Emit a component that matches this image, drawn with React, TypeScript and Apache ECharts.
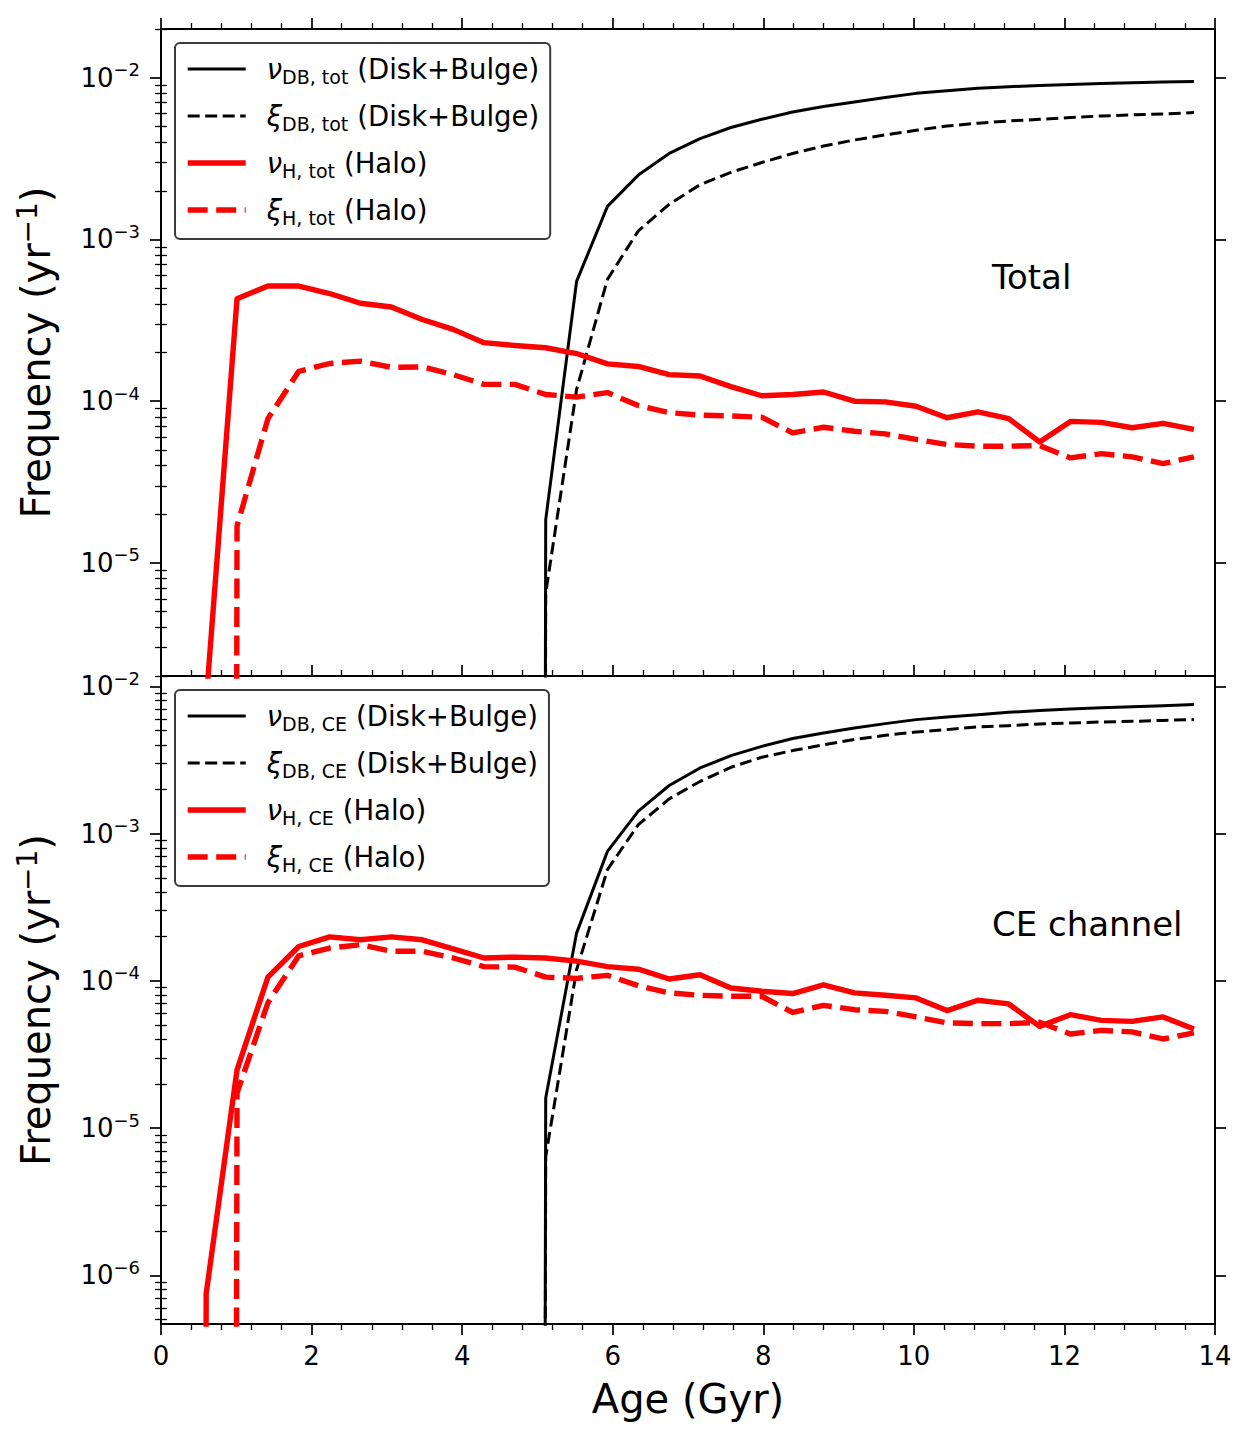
import React, { useEffect, useRef } from 'react';
import * as echarts from 'echarts';

// Age grid (Gyr)
const AGE_GYR = [0.19, 0.6, 1.01, 1.42, 1.83, 2.24, 2.65, 3.06, 3.47, 3.88, 4.29, 4.7, 5.11, 5.52, 5.93, 6.34, 6.75, 7.16, 7.57, 7.98, 8.39, 8.8, 9.21, 9.62, 10.03, 10.44, 10.85, 11.26, 11.67, 12.08, 12.49, 12.9, 13.31, 13.72];

// ---- Top panel: Total ----
const NU_DB_TOT = [0, 0, 0, 0, 0, 0, 0, 0, 0, 0, 0, 0, 1.85e-5, 5.5e-4, 1.6e-3, 2.5e-3, 3.4e-3, 4.2e-3, 4.92e-3, 5.53e-3, 6.14e-3, 6.63e-3, 7.08e-3, 7.54e-3, 8.0e-3, 8.3e-3, 8.6e-3, 8.8e-3, 8.95e-3, 9.08e-3, 9.2e-3, 9.29e-3, 9.4e-3, 9.48e-3];
const XI_DB_TOT = [0, 0, 0, 0, 0, 0, 0, 0, 0, 0, 0, 0, 6.5e-6, 1.18e-4, 5.66e-4, 1.13e-3, 1.65e-3, 2.18e-3, 2.6e-3, 2.99e-3, 3.4e-3, 3.78e-3, 4.12e-3, 4.43e-3, 4.73e-3, 5.03e-3, 5.23e-3, 5.4e-3, 5.53e-3, 5.67e-3, 5.8e-3, 5.89e-3, 5.97e-3, 6.09e-3];
const NU_H_TOT = [0, 1.4e-6, 4.3e-4, 5.15e-4, 5.15e-4, 4.63e-4, 4.03e-4, 3.82e-4, 3.2e-4, 2.78e-4, 2.3e-4, 2.21e-4, 2.14e-4, 1.97e-4, 1.7e-4, 1.64e-4, 1.46e-4, 1.43e-4, 1.23e-4, 1.08e-4, 1.1e-4, 1.14e-4, 1.0e-4, 9.9e-5, 9.3e-5, 7.9e-5, 8.6e-5, 7.8e-5, 5.6e-5, 7.5e-5, 7.4e-5, 6.85e-5, 7.3e-5, 6.7e-5];
const XI_H_TOT = [0, 0, 1.69e-5, 7.8e-5, 1.53e-4, 1.71e-4, 1.77e-4, 1.62e-4, 1.63e-4, 1.46e-4, 1.27e-4, 1.27e-4, 1.1e-4, 1.06e-4, 1.13e-4, 9.4e-5, 8.5e-5, 8.2e-5, 8.1e-5, 7.96e-5, 6.37e-5, 6.9e-5, 6.52e-5, 6.28e-5, 5.8e-5, 5.4e-5, 5.27e-5, 5.27e-5, 5.32e-5, 4.46e-5, 4.74e-5, 4.53e-5, 4.11e-5, 4.53e-5];

// ---- Bottom panel: CE channel ----
const NU_DB_CE = [0, 0, 0, 0, 0, 0, 0, 0, 0, 0, 0, 0, 1.6e-5, 2.11e-4, 7.57e-4, 1.42e-3, 2.12e-3, 2.79e-3, 3.38e-3, 3.91e-3, 4.42e-3, 4.82e-3, 5.21e-3, 5.58e-3, 5.94e-3, 6.19e-3, 6.42e-3, 6.66e-3, 6.84e-3, 7.02e-3, 7.16e-3, 7.27e-3, 7.39e-3, 7.51e-3];
const XI_DB_CE = [0, 0, 0, 0, 0, 0, 0, 0, 0, 0, 0, 0, 6.4e-6, 1.19e-4, 5.69e-4, 1.15e-3, 1.72e-3, 2.26e-3, 2.82e-3, 3.3e-3, 3.66e-3, 4.01e-3, 4.35e-3, 4.65e-3, 4.89e-3, 5.08e-3, 5.3e-3, 5.4e-3, 5.55e-3, 5.63e-3, 5.73e-3, 5.78e-3, 5.87e-3, 5.94e-3];
const NU_H_CE = [0, 7.5e-7, 2.49e-5, 1.06e-4, 1.71e-4, 1.99e-4, 1.9e-4, 1.99e-4, 1.9e-4, 1.65e-4, 1.43e-4, 1.45e-4, 1.43e-4, 1.36e-4, 1.25e-4, 1.2e-4, 1.03e-4, 1.1e-4, 8.95e-5, 8.5e-5, 8.2e-5, 9.4e-5, 8.28e-5, 7.98e-5, 7.66e-5, 6.28e-5, 7.38e-5, 6.97e-5, 4.91e-5, 5.89e-5, 5.39e-5, 5.31e-5, 5.69e-5, 4.71e-5];
const XI_H_CE = [0, 0, 1.73e-5, 7.1e-5, 1.48e-4, 1.67e-4, 1.76e-4, 1.59e-4, 1.59e-4, 1.43e-4, 1.25e-4, 1.24e-4, 1.06e-4, 1.04e-4, 1.09e-4, 9.27e-5, 8.28e-5, 7.98e-5, 7.86e-5, 7.86e-5, 6.1e-5, 6.82e-5, 6.37e-5, 6.21e-5, 5.69e-5, 5.18e-5, 5.12e-5, 5.12e-5, 5.23e-5, 4.36e-5, 4.61e-5, 4.5e-5, 4.03e-5, 4.43e-5];

// Legend labels: [symbol, subscript, text]
const TOP_LABELS = [
  ['ν', 'DB, tot', '(Disk+Bulge)'],
  ['ξ', 'DB, tot', '(Disk+Bulge)'],
  ['ν', 'H, tot', '(Halo)'],
  ['ξ', 'H, tot', '(Halo)'],
];
const BOTTOM_LABELS = [
  ['ν', 'DB, CE', '(Disk+Bulge)'],
  ['ξ', 'DB, CE', '(Disk+Bulge)'],
  ['ν', 'H, CE', '(Halo)'],
  ['ξ', 'H, CE', '(Halo)'],
];
const PANEL_TEXTS = ['Total', 'CE channel'];

// Axis tick definitions (log10 exponents)
const X_RANGE = [0, 14];
const X_INTERVAL = 2;
const TOP_DECADES = [-5, -4, -3, -2];
const BOTTOM_DECADES = [-6, -5, -4, -3, -2];
const MINOR_MULTIPLES = [2, 3, 4, 5, 6, 7, 8, 9];
const TOP_Y_RANGE = [Math.log10(2e-6), Math.log10(2e-2)];
const BOTTOM_Y_RANGE = [-6.33, -1.93];

const FONT = 'DejaVu Sans';
const FLOOR = -100;
const toLog = (v: number) => (v > 0 ? Math.log10(v) : FLOOR);

const labelName = (l: string[]) => `${l[0]}${l[1]} ${l[2]}`;

function minorTicks(range: number[]) {
  const out: number[] = [];
  for (let d = Math.floor(range[0]) - 1; d <= Math.ceil(range[1]); d++) {
    for (const m of MINOR_MULTIPLES) {
      const v = d + Math.log10(m);
      if (v >= range[0] - 1e-9 && v <= range[1] + 1e-9) out.push(v);
    }
  }
  return out;
}

const BLACK_W = 3;
const RED_W = 5.4;
const BLACK_DASH = [12, 5.5];
const RED_DASH = [20, 8.5];

const STYLES = [
  { color: '#000000', width: BLACK_W, type: 'solid' as any },
  { color: '#000000', width: BLACK_W, type: BLACK_DASH as any },
  { color: '#ff0000', width: RED_W, type: 'solid' as any },
  { color: '#ff0000', width: RED_W, type: RED_DASH as any },
];

function buildOption() {
  const gridLeft = 161;
  const gridW = 1054;
  const grids = [
    { left: gridLeft, top: 29, width: gridW, height: 647 },
    { left: gridLeft, top: 676, width: gridW, height: 648 },
  ];

  const xAxis = (gridIndex: number, position: string, showTicks: boolean, labels: boolean) => ({
    type: 'value',
    gridIndex,
    position,
    min: X_RANGE[0],
    max: X_RANGE[1],
    interval: X_INTERVAL,
    axisLine: { show: true, onZero: false, lineStyle: { color: '#000', width: 2 } },
    axisTick: { show: showTicks, inside: false, length: 11, lineStyle: { color: '#000', width: 1.7 } },
    minorTick: { show: showTicks, splitNumber: 5, length: 6, lineStyle: { color: '#000', width: 1.3 } },
    axisLabel: {
      show: labels,
      margin: 17,
      fontFamily: FONT,
      fontSize: 26,
      lineHeight: 30,
      color: '#000',
    },
    splitLine: { show: false },
    minorSplitLine: { show: false },
    ...(labels
      ? {
          name: 'Age (Gyr)',
          nameLocation: 'middle',
          nameGap: 54,
          nameTextStyle: { fontFamily: FONT, fontSize: 40, lineHeight: 42, color: '#000' },
        }
      : {}),
  });

  const yLabelFmt = (v: number) => `{b|10}{s|−${Math.round(-v)}}`;

  const yAxes = (gridIndex: number, range: number[], decades: number[]) => {
    const minors = minorTicks(range);
    const common = {
      type: 'value',
      gridIndex,
      min: range[0],
      max: range[1],
      splitLine: { show: false },
    };
    const major = (position: string) => ({
      ...common,
      position,
      axisLine: { show: true, onZero: false, lineStyle: { color: '#000', width: 2 } },
      axisTick: { show: true, inside: false, customValues: decades, length: 11, lineStyle: { color: '#000', width: 1.7 } },
      axisLabel: {
        show: position === 'left',
        customValues: decades,
        formatter: yLabelFmt,
        margin: 21,
        color: '#000',
        fontFamily: FONT,
        rich: {
          b: { fontFamily: FONT, fontSize: 26, lineHeight: 34, color: '#000' },
          s: { fontFamily: FONT, fontSize: 18, lineHeight: 20, verticalAlign: 'top', color: '#000' },
        },
      },
      ...(position === 'left'
        ? {
            name: 'Frequency (yr{s|−1})',
            nameLocation: 'middle',
            nameGap: 102,
            nameTextStyle: {
              fontFamily: FONT,
              fontSize: 40,
              lineHeight: 46,
              color: '#000',
              rich: { s: { fontFamily: FONT, fontSize: 28, lineHeight: 28, verticalAlign: 'top', color: '#000' } },
            },
          }
        : {}),
    });
    const minor = (position: string) => ({
      ...common,
      position,
      axisLine: { show: false },
      axisTick: { show: true, inside: false, customValues: minors, length: 6, lineStyle: { color: '#000', width: 1.3 } },
      axisLabel: { show: false },
    });
    return [major('left'), minor('left'), major('right'), minor('right')];
  };

  const allSeries = [NU_DB_TOT, XI_DB_TOT, NU_H_TOT, XI_H_TOT];
  const allSeriesCE = [NU_DB_CE, XI_DB_CE, NU_H_CE, XI_H_CE];

  const mkSeries = (labels: string[][], values: number[][], xIdx: number, yIdx: number) =>
    labels.map((l, i) => ({
      type: 'line',
      name: labelName(l),
      xAxisIndex: xIdx,
      yAxisIndex: yIdx,
      data: AGE_GYR.map((x, j) => [x, toLog(values[i][j])]),
      symbol: 'none',
      showSymbol: false,
      clip: true,
      z: 2 + i,
      lineStyle: { color: STYLES[i].color, width: STYLES[i].width, type: STYLES[i].type, cap: 'butt', join: 'round' },
      itemStyle: { color: STYLES[i].color },
      emphasis: { disabled: true },
      silent: true,
    }));

  const richFor = (labels: string[][]) => {
    const map: Record<string, string> = {};
    labels.forEach((l) => {
      map[labelName(l)] = `{it|${l[0]}}{sub|${l[1]}}{t|${l[2]}}`;
    });
    return map;
  };

  const LEG_FS = 27.5;
  const legend = (labels: string[][], top: number) => {
    const map = richFor(labels);
    return {
      show: true,
      orient: 'vertical',
      left: 175,
      top,
      itemWidth: 58,
      itemHeight: 14,
      itemGap: 13,
      padding: [9, 11, 12, 10],
      backgroundColor: '#ffffff',
      borderColor: '#3a3a3a',
      borderWidth: 2,
      borderRadius: 5,
      selectedMode: false,
      data: labels.map((l, i) => ({
        name: labelName(l),
        lineStyle: { color: STYLES[i].color, width: STYLES[i].width, type: STYLES[i].type, cap: 'butt' },
        itemStyle: { color: 'rgba(0,0,0,0)', borderColor: 'rgba(0,0,0,0)', borderWidth: 0, opacity: 0 },
      })),
      formatter: (name: string) => map[name] || name,
      textStyle: {
        fontFamily: FONT,
        fontSize: LEG_FS,
        color: '#000',
        lineHeight: 34,
        padding: [0, 0, 0, 16],
        rich: {
          it: { fontFamily: FONT, fontStyle: 'italic', fontSize: LEG_FS, lineHeight: 34, color: '#000' },
          sub: { fontFamily: FONT, fontSize: 19, lineHeight: 22, verticalAlign: 'bottom', color: '#000' },
          t: { fontFamily: FONT, fontSize: LEG_FS, lineHeight: 34, padding: [0, 0, 0, 9], color: '#000' },
        },
      },
    };
  };

  return {
    animation: false,
    backgroundColor: '#ffffff',
    grid: grids,
    xAxis: [xAxis(0, 'bottom', false, false), xAxis(0, 'top', true, false), xAxis(1, 'top', true, false), xAxis(1, 'bottom', true, true)],
    yAxis: [...yAxes(0, TOP_Y_RANGE, TOP_DECADES), ...yAxes(1, BOTTOM_Y_RANGE, BOTTOM_DECADES)],
    legend: [legend(TOP_LABELS, 43), legend(BOTTOM_LABELS, 690)],
    series: [...mkSeries(TOP_LABELS, allSeries, 0, 0), ...mkSeries(BOTTOM_LABELS, allSeriesCE, 3, 4)],
    graphic: [
      {
        type: 'text',
        x: 992,
        y: 276.5,
        silent: true,
        style: { text: PANEL_TEXTS[0], fontFamily: FONT, fontSize: 34, fill: '#000', align: 'left', verticalAlign: 'middle' },
      },
      {
        type: 'text',
        x: 992,
        y: 923.5,
        silent: true,
        style: { text: PANEL_TEXTS[1], fontFamily: FONT, fontSize: 34, fill: '#000', align: 'left', verticalAlign: 'middle' },
      },
    ],
  };
}

export default function App() {
  const ref = useRef<HTMLDivElement>(null);
  useEffect(() => {
    document.body.style.margin = '0';
    const chart = echarts.init(ref.current as HTMLDivElement, null, { renderer: 'svg' });
    chart.setOption(buildOption() as any);
    return () => chart.dispose();
  }, []);
  return (
    <div
      ref={ref}
      style={{ position: 'absolute', left: 0, top: 0, width: 1240, height: 1440, background: '#fff' }}
    />
  );
}
